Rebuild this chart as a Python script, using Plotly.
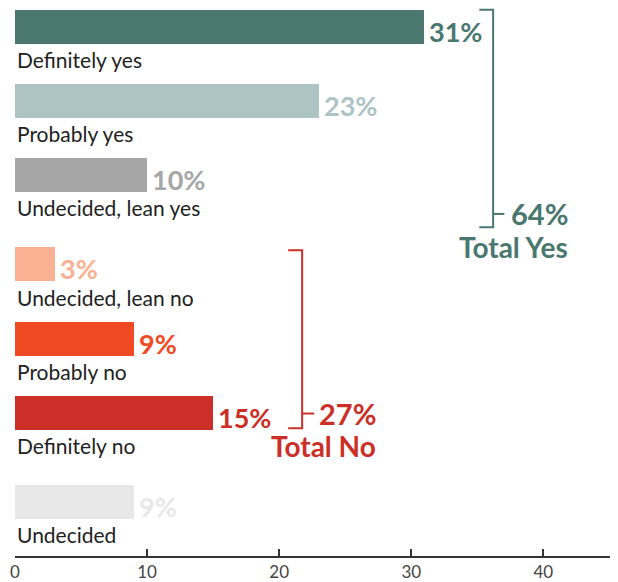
import plotly.graph_objects as go

categories = ["Definitely yes", "Probably yes", "Undecided, lean yes",
              "Undecided, lean no", "Probably no", "Definitely no", "Undecided"]
values = [31, 23, 10, 3, 9, 15, 9]
groups = [0, 0, 0, 1, 1, 1, 2]
colors = ["#4a776f", "#adc3c4", "#a6a6a6", "#f9b093", "#ef4a23", "#cb2f27", "#e8e8e8"]
total_labels = ["64%", "27%"]
total_names = ["Total Yes", "Total No"]
total_colors = ["#4a776f", "#cb2f27"]
x_ticks = [0, 10, 20, 30, 40]

pos = [i + 0.2 * g for i, g in enumerate(groups)]

fig = go.Figure()
fig.add_trace(go.Bar(
    x=values, y=pos, orientation="h", width=0.456,
    marker=dict(color=colors, line=dict(width=0)),
    hoverinfo="skip", showlegend=False,
))

ann = []
for c, v, p, col in zip(categories, values, pos, colors):
    ann.append(dict(x=0, y=p + 0.44, xref="x", yref="y", text=c, showarrow=False,
                    xanchor="left", yanchor="middle", xshift=0,
                    font=dict(family="Lato", size=21, color="#222222")))
    ann.append(dict(x=v, y=p + 0.06, xref="x", yref="y", text="<b>%d%%</b>" % v,
                    showarrow=False, xanchor="left", yanchor="middle", xshift=3,
                    font=dict(family="Lato", size=27, color=col)))

shapes = []
# bracket geometry (layout): [x_vert, x_left, x_right, y_top, y_bottom, y_mid, x_text_right]
brackets = [
    (36.2, 35.15, 37.05, -0.23, 2.70, 2.52, 42.05),
    (21.74, 20.68, 22.65, 3.01, 5.41, 5.21, 27.45),
]
for (xv, xl, xr, yt, yb, ym, xt), lab, name, col in zip(brackets, total_labels, total_names, total_colors):
    line = dict(color=col, width=2)
    shapes.append(dict(type="path", xref="x", yref="y",
                       path="M %f %f L %f %f L %f %f L %f %f" % (xl, yt, xv, yt, xv, yb, xl, yb),
                       line=line))
    shapes.append(dict(type="line", xref="x", yref="y", x0=xv, x1=xr, y0=ym, y1=ym, line=line))
    ann.append(dict(x=xt, y=ym, xref="x", yref="y", text="<b>%s</b>" % lab, showarrow=False,
                    xanchor="right", yanchor="middle",
                    font=dict(family="Lato", size=29, color=col)))
    ann.append(dict(x=xt, y=ym + 0.44, xref="x", yref="y", text="<b>%s</b>" % name, showarrow=False,
                    xanchor="right", yanchor="middle",
                    font=dict(family="Lato", size=28, color=col)))

fig.update_layout(
    width=610, height=574,
    margin=dict(l=7, r=6, t=0, b=24),
    paper_bgcolor="white", plot_bgcolor="white",
    annotations=ann, shapes=shapes,
    xaxis=dict(range=[0, 45.2], tickvals=x_ticks, ticks="inside", ticklen=7,
               tickwidth=1.5, tickcolor="#333333", showline=True, linecolor="#333333",
               linewidth=1.5, showgrid=False, zeroline=False,
               tickfont=dict(family="Lato", size=17, color="#444444")),
    yaxis=dict(range=[7.13, -0.255], visible=False, showgrid=False, zeroline=False),
    bargap=0,
)

fig.write_html("out.html")
